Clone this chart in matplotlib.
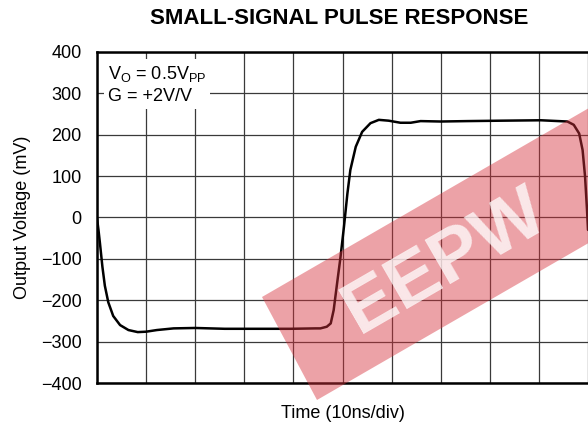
import matplotlib
matplotlib.use("Agg")
import matplotlib.pyplot as plt
from matplotlib.patches import Polygon
import numpy as np

plt.rcParams['font.family'] = ['Liberation Sans', 'DejaVu Sans']

# time in ns (10 ns/div), output voltage in mV
t_ns = [0, 0.3, 0.6, 1.1, 1.6, 2.3, 3.3, 4.7, 6.4, 8.3, 10.0, 12.2, 15.6,
        20, 26, 32, 39.4, 44.5, 45.5, 46.8, 47.6, 48.2, 48.9, 49.6, 50.3,
        51.0, 51.6, 52.7, 54.0, 55.7, 57.4, 59.4, 61.8, 63.9, 65.9, 70,
        75.4, 82.3, 90.4, 95.8, 97.1, 98.2, 98.9, 99.4, 99.8, 100]
v_mv = [-2, -30, -62, -119, -165, -205, -238, -260, -272, -277, -276, -272,
        -268, -267, -269, -269, -269, -268, -268, -264, -256, -224, -159,
        -95, -22, 58, 115, 171, 207, 228, 236, 234, 229, 229, 233, 232,
        233, 234, 235, 232, 224, 203, 163, 99, 18, -30]

y_ticks = [400, 300, 200, 100, 0, -100, -200, -300, -400]
y_labels = ["400", "300", "200", "100", "0", "\u2212100", "\u2212200", "\u2212300", "\u2212400"]

fig = plt.figure(figsize=(5.88, 4.25), dpi=100)
ax = fig.add_axes([97 / 588, 1 - 383 / 425, 491 / 588, 331 / 425])

ax.set_xlim(0, 100)
ax.set_ylim(-400, 400)
ax.set_xticks(np.arange(0, 101, 10))
ax.set_xticklabels([])
ax.set_yticks(y_ticks)
ax.set_yticklabels(y_labels, fontsize=13)
ax.tick_params(length=0, pad=11)
ax.grid(True, color="#3a3a3a", lw=0.9)
ax.set_axisbelow(True)
for s in ax.spines.values():
    s.set_linewidth(1.8)
ax.spines["right"].set_visible(False)

ax.plot(t_ns, v_mv, color="black", lw=1.8, solid_capstyle="round")

ax.text(2.2, 322, "V$_\\mathregular{O}$ = 0.5V$_\\mathregular{PP}$\nG = +2V/V",
        fontsize=13, va="center", ha="left", linespacing=1.3,
        bbox=dict(facecolor="white", edgecolor="none", pad=3))

ax.set_ylabel("Output Voltage (mV)", fontsize=13, labelpad=7)
ax.set_xlabel("Time (10ns/div)", fontsize=13, labelpad=5)
fig.text(339 / 588, 1 - 18 / 425, "SMALL-SIGNAL PULSE RESPONSE",
         ha="center", va="center", fontsize=16, fontweight="bold")

# red watermark band
def fc(px, py):
    return (px / 588, 1 - py / 425)

band = [fc(262, 297), fc(317, 400), fc(663, 200), fc(608, 97)]
fig.patches.append(Polygon(band, closed=True, transform=fig.transFigure,
                           facecolor="#d7323c", edgecolor="none", alpha=0.45,
                           zorder=10))
fig.text(445 / 588, 1 - 262 / 425, "EEPW", rotation=30, ha="center",
         va="center", fontsize=54, fontweight="bold", color="white",
         alpha=0.75, zorder=11)

fig.savefig("out.png", dpi=100)
